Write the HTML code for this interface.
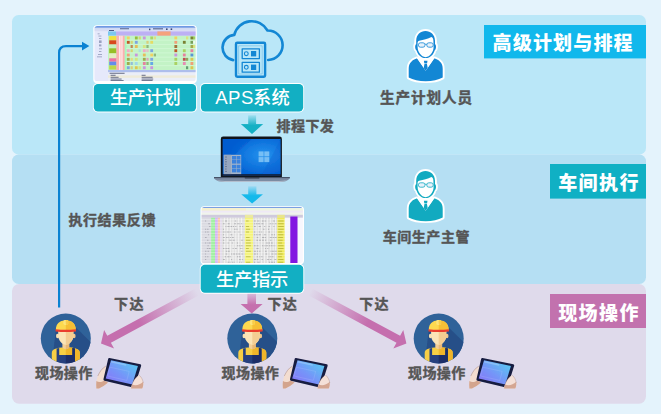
<!DOCTYPE html>
<html lang="zh-CN">
<head>
<meta charset="utf-8">
<title>APS 生产计划流程</title>
<style>
html,body{margin:0;padding:0;background:#e4f3fc;}
body{width:661px;height:414px;overflow:hidden;}
svg{display:block;}
text{font-family:"Liberation Sans","Noto Sans CJK SC",sans-serif;}
.t{font-weight:900;font-size:19px;fill:#fff;}
.b{font-weight:500;font-size:18.3px;fill:#fff;}
.g{font-weight:700;font-size:14px;fill:#555;stroke:#555;stroke-width:0.4px;stroke-linejoin:round;}
.pc{fill:var(--c);}
.ps{stroke:var(--c);}
</style>
</head>
<body>
<svg width="661" height="414" viewBox="0 0 661 414">
<defs>
  <linearGradient id="gTeal" x1="0" y1="0" x2="0" y2="1">
    <stop offset="0" stop-color="#14b0c4" stop-opacity="0.15"/>
    <stop offset="0.55" stop-color="#14b0c4" stop-opacity="1"/>
    <stop offset="1" stop-color="#14b0c4"/>
  </linearGradient>
  <linearGradient id="gBlue" x1="0" y1="0" x2="0" y2="1">
    <stop offset="0" stop-color="#14b9eb" stop-opacity="0.15"/>
    <stop offset="0.55" stop-color="#14b9eb" stop-opacity="1"/>
    <stop offset="1" stop-color="#14b9eb"/>
  </linearGradient>
  <linearGradient id="gPinkV" x1="0" y1="0" x2="0" y2="1">
    <stop offset="0" stop-color="#c56fae" stop-opacity="0.2"/>
    <stop offset="0.6" stop-color="#c56fae" stop-opacity="1"/>
  </linearGradient>
  <linearGradient id="gPinkL" gradientUnits="userSpaceOnUse" x1="197.2" y1="291.8" x2="101" y2="343.6">
    <stop offset="0" stop-color="#c56fae" stop-opacity="0"/>
    <stop offset="0.6" stop-color="#c56fae" stop-opacity="1"/>
  </linearGradient>
  <linearGradient id="gPinkR" gradientUnits="userSpaceOnUse" x1="310.2" y1="291.8" x2="406.4" y2="343.6">
    <stop offset="0" stop-color="#c56fae" stop-opacity="0"/>
    <stop offset="0.6" stop-color="#c56fae" stop-opacity="1"/>
  </linearGradient>
  <linearGradient id="gScreen" x1="0" y1="1" x2="1" y2="0">
    <stop offset="0" stop-color="#8a70f8"/>
    <stop offset="0.45" stop-color="#7595f8"/>
    <stop offset="1" stop-color="#52d2f0"/>
  </linearGradient>
  <radialGradient id="gWin" cx="0.7" cy="0.45" r="0.6">
    <stop offset="0" stop-color="#2492ee"/>
    <stop offset="1" stop-color="#0262d4"/>
  </radialGradient>
  <filter id="fSoft" x="-5%" y="-5%" width="110%" height="110%"><feGaussianBlur stdDeviation="0.35"/></filter>
  <clipPath id="cCirc"><circle cx="0" cy="0" r="25"/></clipPath>

  <!-- business person icon, origin at top-left of 38x54 box -->
  <g id="person">
    <g fill="#fff" stroke="#fff" stroke-width="3.8" stroke-linejoin="round">
      <path d="M18.5 2.2 C13.4 2.2 9.4 5.6 9.2 12 L9.2 15.4 C7.8 15.8 7.8 20.6 9.6 21.6 C10.4 25 13.6 29.2 18.6 29.2 C23.6 29.2 26.8 25 27.6 21.6 C29.4 20.6 29.4 15.8 28 15.4 L28 12 C27.8 5.6 23.6 2.2 18.5 2.2 Z"/>
      <path d="M10.2 29.5 C7.6 30.6 5.6 31.6 4.6 32.6 C2.4 34.6 1.7 37 1.7 40 L1.7 48.8 C6 51.2 12 52.4 18.7 52.4 C25.4 52.4 31.4 51.2 35.7 48.8 L35.7 40 C35.7 37 35 34.6 32.8 32.6 C31.8 31.6 29.8 30.6 27.2 29.5 Z"/>
    </g>
    <path class="pc" d="M10.2 29.5 C7.6 30.6 5.6 31.6 4.6 32.6 C2.4 34.6 1.7 37 1.7 40 L1.7 48.8 C6 51.2 12 52.4 18.7 52.4 C25.4 52.4 31.4 51.2 35.7 48.8 L35.7 40 C35.7 37 35 34.6 32.8 32.6 C31.8 31.6 29.8 30.6 27.2 29.5 L18.7 41.6 Z"/>
    <path d="M9.8 29.3 L13.6 27 L23.8 27 L27.6 29.3 L18.7 42 Z" fill="#fff"/>
    <path class="pc" d="M16.9 32 L20.5 32 L20.1 34.5 L17.3 34.5 Z M17.5 35 L19.9 35 L20.7 39.2 L18.7 42 L16.7 39.2 Z"/>
    <path class="pc" d="M18.5 2.2 C13.4 2.2 9.4 5.6 9.2 12 L9.2 15.4 C7.8 15.8 7.8 20.6 9.6 21.6 C10.4 25 13.6 29.2 18.6 29.2 C23.6 29.2 26.8 25 27.6 21.6 C29.4 20.6 29.4 15.8 28 15.4 L28 12 C27.8 5.6 23.6 2.2 18.5 2.2 Z"/>
    <path d="M10.6 13.6 C11 12.6 11.4 12.2 12.2 12 C14.4 11.6 16.6 11 18.5 10.4 C20.6 9.8 23 9 24.5 8.2 C25.6 8.6 26.4 10 26.4 12 L26.6 18 C26.6 20.6 25.8 23 24.4 24.8 C22.8 27 20.8 28.4 18.6 28.4 C16.4 28.4 14.4 27 12.8 24.8 C11.4 23 10.6 20.6 10.6 18 Z" fill="#fff"/>
    <g class="ps" stroke-width="0.8" fill="#e6f1fb">
      <rect x="11.4" y="14" width="6.6" height="4.4" rx="2"/>
      <rect x="19.8" y="14" width="6.4" height="4.4" rx="2"/>
      <path d="M18 15.6 Q18.9 15 19.8 15.6" fill="none"/>
    </g>
  </g>

  <!-- worker icon, origin at circle centre -->
  <g id="worker">
    <circle cx="0" cy="0" r="25" fill="#2f6299"/>
    <g clip-path="url(#cCirc)"><g transform="translate(0 0.5)" filter="url(#fSoft)">
      <path d="M-10 -9 L9.6 -12 L40 18 L20 45 L-14 25 Z" fill="#274f88"/>
      <!-- shirt -->
      <path d="M-14 26 L-14 14 C-14 10.6 -11 9.4 -4.4 8.6 L4.4 8.6 C11 9.4 14 10.6 14 14 L14 26 Z" fill="#f7cf45"/>
      <path d="M0 8.6 L4.4 8.6 C11 9.4 14 10.6 14 14 L14 26 L0 26 Z" fill="#f0b62c"/>
      <!-- overalls -->
      <path d="M-9.2 9.4 L-6.6 9 L-6.6 16 L6.6 16 L6.6 9 L9.2 9.4 L9.2 26 L-9.2 26 Z" fill="#25407f"/>
      <path d="M0 16 L6.6 16 L6.6 9 L9.2 9.4 L9.2 26 L0 26 Z" fill="#1c2f68"/>
      <!-- neck -->
      <path d="M-3.4 2 L3.4 2 L3.4 8.8 Q0 11.6 -3.4 8.8 Z" fill="#f4cf98"/>
      <path d="M0 2 L3.4 2 L3.4 8.8 Q1.8 10.2 0 10.4 Z" fill="#e9b877"/>
      <!-- ears -->
      <ellipse cx="-8.2" cy="-3" rx="1.6" ry="2.2" fill="#f9e0b0"/>
      <ellipse cx="8.2" cy="-3" rx="1.6" ry="2.2" fill="#f0c68c"/>
      <!-- face -->
      <path d="M-7.6 -8 L7.6 -8 L7.6 -3 C7.4 1.6 3.6 5.8 0 5.8 C-3.6 5.8 -7.4 1.6 -7.6 -3 Z" fill="#fbe4b6"/>
      <path d="M0 -8 L7.6 -8 L7.6 -3 C7.4 1.6 3.6 5.8 0 5.8 Z" fill="#f4cd92"/>
      <!-- helmet -->
      <path d="M-9.9 -8.6 C-10.2 -13 -8.6 -16.2 -5.4 -17.6 C-3 -18.7 3 -18.7 5.4 -17.6 C8.6 -16.2 10.2 -13 9.9 -8.6 Z" fill="#fcd950"/>
      <path d="M0 -18.4 C2 -18.4 4 -18.2 5.4 -17.6 C8.6 -16.2 10.2 -13 9.9 -8.6 L0 -8.6 Z" fill="#f5bf36"/>
      <rect x="-2.4" y="-19" width="4.8" height="5" rx="1.4" fill="#fde47a"/>
      <rect x="0" y="-19" width="2.4" height="5" rx="1.2" fill="#f8cc48"/>
      <path d="M-10.2 -9.8 Q0 -8.6 10.2 -9.8 L10.2 -7.6 Q0 -6.4 -10.2 -7.6 Z" fill="#ea3c2e"/>
    </g></g>
  </g>

  <!-- tablet in hands, origin at top-left of 47x32 box -->
  <g id="tablet">
    <g filter="url(#fSoft)">
    <path d="M9.6 8.8 C6 10.6 3.4 14.6 1.6 18.6 C0.2 22 -0.2 27 0.2 31.2 L2.8 31.2 C5.6 29.6 9.2 27.8 11.8 25.2 L7.6 22.6 L11.2 9.6 Z" fill="#f3ddd0"/>
    <path d="M0.2 31.2 L2.8 31.2 C5.6 29.6 9.2 27.8 11.8 25.2 L7.8 23 C5.4 24.8 2.4 25 0.2 23.6 C-0.1 26 0 28.8 0.2 31.2 Z" fill="#d3a48d"/>
    <path d="M9.6 8.8 C6 10.6 3.4 14.6 1.6 18.6" fill="none" stroke="#8c6458" stroke-width="0.5" stroke-opacity="0.7"/>
    <path d="M13.3 0.6 L44.1 6.8 Q45.3 7.2 44.9 8.5 L38.4 29.4 Q38 30.4 36.8 30.1 L8.2 23.3 Q7 22.9 7.3 21.7 L12 1.4 Q12.3 0.4 13.3 0.6 Z" fill="#171b40"/>
    <path d="M14.8 2.8 L41.7 8.5 L36.1 27.2 L9.5 21.1 Z" fill="url(#gScreen)"/>
    <path d="M13.6 9.8 L33 14 L30.6 23 L11.4 18.6 Z" fill="none" stroke="#c9d6ff" stroke-opacity="0.35" stroke-width="0.5"/>
    <path d="M15 4.4 L30 7.6" fill="none" stroke="#d8f0ff" stroke-opacity="0.3" stroke-width="1.6"/>
    <path d="M43 17.8 C45.2 19.6 46.8 22.8 47.1 25.6 C47.3 28 46.8 30 46 31.2 L34.8 31.2 C35 29.4 35.4 27.8 36.2 26 C37.2 23.6 39 20.6 41.3 18.8 C41.9 18.3 42.5 17.8 43 17.8 Z" fill="#f4e0d8"/>
    <path d="M34.8 31.2 C35 29.6 35.4 28.2 36 26.8 C38.4 28.6 43.6 27.8 46.9 24.6 C47.4 27 46.9 29.6 46 31.2 Z" fill="#d4a692"/>
    <path d="M43 17.8 C45.2 19.6 46.8 22.8 47.1 25.6 M41.3 18.8 C39 20.6 37.2 23.6 36.2 26" fill="none" stroke="#8c6458" stroke-width="0.5" stroke-opacity="0.55"/>
    </g>
  </g>
</defs>

<!-- background panels -->
<rect x="0" y="0" width="661" height="414" fill="#e4f3fc"/>
<rect x="12" y="15" width="634" height="139.5" rx="6.6" fill="#bae7f8"/>
<rect x="12" y="154.5" width="634" height="129.4" rx="6.6" fill="#b5dff3"/>
<rect x="12" y="283.9" width="634" height="119.9" rx="7.2" fill="#dfdaeb"/>

<!-- section labels -->
<rect x="484" y="25" width="162" height="33.4" fill="#11b8ec"/>
<text class="t" x="492.6" y="50" textLength="140" lengthAdjust="spacing">高级计划与排程</text>
<rect x="550" y="164" width="96" height="34.6" fill="#10b0c4"/>
<text class="t" x="558.2" y="190.4" textLength="80.2" lengthAdjust="spacing">车间执行</text>
<rect x="550" y="294" width="96" height="34" fill="#c272ae"/>
<text class="t" x="558.2" y="320.2" textLength="80.2" lengthAdjust="spacing">现场操作</text>

<!-- feedback line -->
<path d="M59.1 307.6 L59.1 53 Q59.1 46.1 66 46.1 L83 46.1" fill="none" stroke="#0a82d2" stroke-width="2.2"/>
<path d="M82 41.8 L89.4 46.1 L82 50.4 Z" fill="#0a82d2"/>
<text class="g" x="68.4" y="224.8" textLength="87" lengthAdjust="spacing">执行结果反馈</text>

<!-- pink arrows -->
<path d="M101.0 343.6 L104.1 329.9 L107.3 335.8 L195.4 288.4 L199.0 295.2 L110.9 342.7 L114.1 348.6 Z" fill="url(#gPinkL)"/>
<path d="M406.4 343.6 L393.3 348.6 L396.5 342.7 L308.4 295.2 L312.0 288.4 L400.1 335.8 L403.3 329.9 Z" fill="url(#gPinkR)"/>
<path d="M247.4 292 L256 292 L256 304 L262.6 304 L251.7 313.4 L240.6 304 L247.4 304 Z" fill="url(#gPinkV)"/>
<text class="g" x="114" y="309" textLength="29.4" lengthAdjust="spacing">下达</text>
<text class="g" x="267.4" y="309" textLength="29.4" lengthAdjust="spacing">下达</text>
<text class="g" x="359.2" y="309" textLength="29.4" lengthAdjust="spacing">下达</text>

<!-- production plan screenshot -->
<g id="plan">
  <rect x="93.3" y="25.2" width="103.5" height="58" rx="3.6" fill="#fff"/>
  <clipPath id="cPlan"><rect x="94.4" y="26.3" width="101.3" height="54.7" rx="2.6"/></clipPath>
  <g clip-path="url(#cPlan)" filter="url(#fSoft)">
    <rect x="94" y="26" width="102" height="56" fill="#e3e6f9"/>
    <rect x="94" y="26" width="102" height="1.7" fill="#3f78da"/>
    <rect x="94" y="27.7" width="102" height="2.1" fill="#cfdaf4"/>
    <rect x="94" y="29.8" width="102" height="1.6" fill="#d9dcf3"/>
    <g fill="#3b4a78"><rect x="109" y="30" width="5" height="0.9"/><rect x="120" y="28.4" width="9" height="0.8"/><rect x="149" y="28.6" width="1.4" height="1.6"/><rect x="153" y="28.4" width="10" height="0.9"/><rect x="166" y="28.4" width="1.6" height="1.6"/><rect x="170.6" y="28.4" width="1.6" height="1.6"/></g>
    <rect x="94" y="31.4" width="14" height="51" fill="#e6e9fb"/>
    <rect x="108" y="31.4" width="8" height="4.4" fill="#7cc8f0"/>
    <rect x="116" y="31.4" width="80" height="4.4" fill="#bdb0f3"/>
    <rect x="157.4" y="31.4" width="13.2" height="4.4" fill="#f5a27c"/>
    <rect x="108" y="35.8" width="88" height="34.2" fill="#c3f3c6"/>
    <rect x="116.2" y="35.8" width="8.6" height="34.2" fill="#fab0b0"/>
    <rect x="119.2" y="35.8" width="1.3" height="34.2" fill="#fff3f3"/>
    <rect x="121.4" y="35.8" width="1.1" height="34.2" fill="#fff3f3"/>
    <rect x="124.8" y="35.8" width="1.8" height="34.2" fill="#a9f8be"/>
    <rect x="109.2" y="36.1" width="7" height="4.2" fill="#f0e13c"/>
    <rect x="109.2" y="40.3" width="7" height="4.2" fill="#d7461e"/>
    <rect x="109.2" y="44.5" width="7" height="3.8" fill="#c8f0be"/>
    <rect x="109.2" y="48.3" width="7" height="5.1" fill="#96be28"/>
    <rect x="109.2" y="53.4" width="7" height="4.9" fill="#e3efc0"/>
    <rect x="109.2" y="58.3" width="7" height="3.4" fill="#f06ea0"/>
    <rect x="109.2" y="61.7" width="7" height="3.8" fill="#648cec"/>
    <rect x="109.2" y="65.5" width="7" height="4.1" fill="#bed746"/>
    <rect x="126.9" y="36.5" width="2.8" height="3" fill="#f0d264" fill-opacity="1.0"/>
    <rect x="126.9" y="40.8" width="2.8" height="3" fill="#be5a28" fill-opacity="1.0"/>
    <rect x="126.9" y="49.2" width="2.8" height="3" fill="#f0aac8" fill-opacity="1.0"/>
    <rect x="126.9" y="53.5" width="2.8" height="3" fill="#f0a078" fill-opacity="1.0"/>
    <rect x="126.9" y="57.8" width="2.8" height="3" fill="#a0aa50" fill-opacity="1.0"/>
    <rect x="126.9" y="62.0" width="2.8" height="3" fill="#a0aa50" fill-opacity="1.0"/>
    <rect x="126.9" y="66.2" width="2.8" height="3" fill="#7da5e1" fill-opacity="1.0"/>
    <rect x="130.6" y="40.8" width="2.2" height="3" fill="#dcc850" fill-opacity="0.7"/>
    <rect x="130.6" y="45.0" width="2.2" height="3" fill="#be5a28" fill-opacity="0.7"/>
    <rect x="130.6" y="49.2" width="2.2" height="3" fill="#dcc850" fill-opacity="0.7"/>
    <rect x="130.6" y="57.8" width="2.2" height="3" fill="#f0d264" fill-opacity="0.7"/>
    <rect x="130.6" y="62.0" width="2.2" height="3" fill="#7da5e1" fill-opacity="0.7"/>
    <rect x="130.6" y="66.2" width="2.2" height="3" fill="#e6be5a" fill-opacity="0.7"/>
    <rect x="134.9" y="36.5" width="2.8" height="3" fill="#96be3c" fill-opacity="1.0"/>
    <rect x="134.9" y="40.8" width="2.8" height="3" fill="#7da5e1" fill-opacity="1.0"/>
    <rect x="134.9" y="45.0" width="2.8" height="3" fill="#e6be5a" fill-opacity="1.0"/>
    <rect x="134.9" y="53.5" width="2.8" height="3" fill="#c896dc" fill-opacity="1.0"/>
    <rect x="134.9" y="57.8" width="2.8" height="3" fill="#d2e682" fill-opacity="1.0"/>
    <rect x="134.9" y="62.0" width="2.8" height="3" fill="#a0d8e8" fill-opacity="1.0"/>
    <rect x="134.9" y="66.2" width="2.8" height="3" fill="#dcc850" fill-opacity="1.0"/>
    <rect x="138.6" y="36.5" width="2.2" height="3" fill="#dcc850" fill-opacity="0.7"/>
    <rect x="138.6" y="49.2" width="2.2" height="3" fill="#a0d8e8" fill-opacity="0.7"/>
    <rect x="138.6" y="66.2" width="2.2" height="3" fill="#e6dc64" fill-opacity="0.7"/>
    <rect x="142.9" y="36.5" width="2.8" height="3" fill="#c896dc" fill-opacity="1.0"/>
    <rect x="142.9" y="45.0" width="2.8" height="3" fill="#d2e682" fill-opacity="1.0"/>
    <rect x="142.9" y="49.2" width="2.8" height="3" fill="#f0aac8" fill-opacity="1.0"/>
    <rect x="142.9" y="53.5" width="2.8" height="3" fill="#e6be5a" fill-opacity="1.0"/>
    <rect x="142.9" y="57.8" width="2.8" height="3" fill="#a0aa50" fill-opacity="1.0"/>
    <rect x="142.9" y="62.0" width="2.8" height="3" fill="#e6829e" fill-opacity="1.0"/>
    <rect x="142.9" y="66.2" width="2.8" height="3" fill="#c896dc" fill-opacity="1.0"/>
    <rect x="146.4" y="40.8" width="2.2" height="3" fill="#e6be5a" fill-opacity="0.7"/>
    <rect x="146.4" y="45.0" width="2.2" height="3" fill="#78a05a" fill-opacity="0.7"/>
    <rect x="146.4" y="49.2" width="2.2" height="3" fill="#f0aac8" fill-opacity="0.7"/>
    <rect x="146.4" y="57.8" width="2.2" height="3" fill="#e68cb4" fill-opacity="0.7"/>
    <rect x="146.4" y="62.0" width="2.2" height="3" fill="#78a05a" fill-opacity="0.7"/>
    <rect x="150.3" y="36.5" width="2.8" height="3" fill="#aad264" fill-opacity="1.0"/>
    <rect x="150.3" y="40.8" width="2.8" height="3" fill="#e6dc64" fill-opacity="1.0"/>
    <rect x="150.3" y="49.2" width="2.8" height="3" fill="#7da5e1" fill-opacity="1.0"/>
    <rect x="150.3" y="53.5" width="2.8" height="3" fill="#f0d264" fill-opacity="1.0"/>
    <rect x="150.3" y="57.8" width="2.8" height="3" fill="#7da5e1" fill-opacity="1.0"/>
    <rect x="150.3" y="62.0" width="2.8" height="3" fill="#64aae6" fill-opacity="1.0"/>
    <rect x="150.3" y="66.2" width="2.8" height="3" fill="#c896dc" fill-opacity="1.0"/>
    <rect x="153.8" y="36.5" width="2.2" height="3" fill="#f0d264" fill-opacity="0.7"/>
    <rect x="153.8" y="53.5" width="2.2" height="3" fill="#78a05a" fill-opacity="0.7"/>
    <rect x="174.4" y="36.5" width="2.8" height="3" fill="#f0d264" fill-opacity="1.0"/>
    <rect x="174.4" y="40.8" width="2.8" height="3" fill="#f0a078" fill-opacity="1.0"/>
    <rect x="174.4" y="45.0" width="2.8" height="3" fill="#a0733c" fill-opacity="1.0"/>
    <rect x="174.4" y="49.2" width="2.8" height="3" fill="#be5a28" fill-opacity="1.0"/>
    <rect x="174.4" y="53.5" width="2.8" height="3" fill="#c896dc" fill-opacity="1.0"/>
    <rect x="174.4" y="57.8" width="2.8" height="3" fill="#aad264" fill-opacity="1.0"/>
    <rect x="174.4" y="62.0" width="2.8" height="3" fill="#aad264" fill-opacity="1.0"/>
    <rect x="182.9" y="40.8" width="2.8" height="3" fill="#7a8232" fill-opacity="1.0"/>
    <rect x="182.9" y="49.2" width="2.8" height="3" fill="#aad264" fill-opacity="1.0"/>
    <rect x="182.9" y="53.5" width="2.8" height="3" fill="#e6829e" fill-opacity="1.0"/>
    <rect x="182.9" y="57.8" width="2.8" height="3" fill="#be5050" fill-opacity="1.0"/>
    <rect x="182.9" y="62.0" width="2.8" height="3" fill="#e68cb4" fill-opacity="1.0"/>
    <rect x="186.0" y="36.5" width="2.2" height="3" fill="#e6dc64" fill-opacity="0.7"/>
    <rect x="186.0" y="57.8" width="2.2" height="3" fill="#7a8232" fill-opacity="0.7"/>
    <rect x="186.0" y="66.2" width="2.2" height="3" fill="#3c7d50" fill-opacity="0.7"/>
    <rect x="190.5" y="36.5" width="2.8" height="3" fill="#7a8232" fill-opacity="1.0"/>
    <rect x="190.5" y="40.8" width="2.8" height="3" fill="#78a05a" fill-opacity="1.0"/>
    <rect x="190.5" y="45.0" width="2.8" height="3" fill="#a0aa50" fill-opacity="1.0"/>
    <rect x="190.5" y="49.2" width="2.8" height="3" fill="#e6829e" fill-opacity="1.0"/>
    <rect x="190.5" y="53.5" width="2.8" height="3" fill="#5a96d2" fill-opacity="1.0"/>
    <rect x="190.5" y="57.8" width="2.8" height="3" fill="#dcc850" fill-opacity="1.0"/>
    <rect x="190.5" y="62.0" width="2.8" height="3" fill="#f0a078" fill-opacity="1.0"/>
    <rect x="190.5" y="66.2" width="2.8" height="3" fill="#dcc850" fill-opacity="1.0"/>
    <rect x="193.0" y="36.5" width="2.2" height="3" fill="#96be3c" fill-opacity="0.7"/>
    <rect x="193.0" y="40.8" width="2.2" height="3" fill="#ffffff" fill-opacity="0.7"/>
    <rect x="193.0" y="45.0" width="2.2" height="3" fill="#e6dc64" fill-opacity="0.7"/>
    <g stroke="#e4ffe6" stroke-width="0.5" stroke-opacity="0.8">
      <path d="M126 40.15 H196"/>
      <path d="M126 44.40 H196"/>
      <path d="M126 48.65 H196"/>
      <path d="M126 52.90 H196"/>
      <path d="M126 57.15 H196"/>
      <path d="M126 61.40 H196"/>
      <path d="M126 65.65 H196"/>
    </g>
    <rect x="108" y="70" width="88" height="2.4" fill="#aebeec"/>
    <rect x="108" y="72.4" width="88" height="9.4" fill="#ebeef8"/>
    <rect x="108" y="75.4" width="88" height="2.4" fill="#efebd9"/>
    <g fill="#5a607a"><rect x="109.6" y="72.8" width="15" height="0.9"/><rect x="110.6" y="74.8" width="5" height="0.9"/><rect x="110.6" y="76.8" width="8" height="0.9"/><rect x="110.6" y="78.6" width="11" height="0.9"/><rect x="110.6" y="80.2" width="13" height="0.9"/><rect x="141.6" y="74.8" width="4" height="0.9"/><rect x="141.6" y="76.8" width="11" height="0.9"/><rect x="141.6" y="78.6" width="11.6" height="0.9"/><rect x="141.6" y="80.2" width="11" height="0.9"/></g>
    <g fill="#9aa2c0"><rect x="97.6" y="33.4" width="2" height="0.9"/><rect x="98.4" y="35.6" width="3" height="0.9"/><rect x="99" y="38" width="2.4" height="0.9"/><rect x="99" y="40.4" width="2.6" height="2.6"/><rect x="99" y="44.4" width="2.4" height="2"/><rect x="99" y="48.4" width="3" height="0.9"/><rect x="99" y="51" width="2.4" height="0.9"/><rect x="98" y="54" width="4" height="0.9"/><rect x="97" y="56.4" width="5" height="0.9"/></g>
  </g>
</g>

<!-- teal buttons -->
<rect x="92.9" y="83" width="104.2" height="29.5" rx="5" fill="#fff"/>
<rect x="93.8" y="83.9" width="102.3" height="27.5" rx="4.2" fill="#12afc3"/>
<text class="b" x="109.9" y="104.2" textLength="71" lengthAdjust="spacing">生产计划</text>
<rect x="200" y="83" width="104.1" height="29.5" rx="5" fill="#fff"/>
<rect x="200.9" y="83.9" width="102.3" height="27.5" rx="4.2" fill="#12afc3"/>
<text class="b" y="104.2"><tspan x="215.3" style="font-size:18.6px" textLength="38" lengthAdjust="spacing">APS</tspan><tspan x="253" textLength="36.8" lengthAdjust="spacing">系统</tspan></text>

<!-- cloud server icon -->
<g fill="none" stroke="#1387d4" stroke-linejoin="round" stroke-linecap="round">
  <path stroke-width="2.6" d="M233.2 60.1 A12.7 12.7 0 0 1 234.3 34.9 A18 18 0 0 1 267.5 30.5 A14.75 14.75 0 1 1 268.2 60"/>
  <rect x="236" y="42.8" width="29.1" height="34" rx="1.2" stroke-width="2.4"/>
  <rect x="239" y="45.8" width="23.2" height="28.2" stroke-width="0.8" stroke-opacity="0.35"/>
  <rect x="242.2" y="48.8" width="17.2" height="9.8" stroke-width="1.3"/>
  <rect x="242.2" y="62.4" width="17.2" height="9.8" stroke-width="1.3"/>
  <circle cx="246.3" cy="53.7" r="1.9" stroke-width="1.1"/>
  <circle cx="246.3" cy="67.3" r="1.9" stroke-width="1.1"/>
</g>
<rect x="251" y="51" width="5.2" height="5.4" fill="#1387d4"/>
<rect x="251" y="64.6" width="5.2" height="5.4" fill="#1387d4"/>

<!-- arrow 1 + label -->
<path d="M248.2 115.2 L256.1 115.2 L256.1 124.1 L263.2 124.1 L252 134 L240.8 124.1 L248.2 124.1 Z" fill="url(#gTeal)"/>
<text class="g" x="276.6" y="130.6" textLength="57.2" lengthAdjust="spacing">排程下发</text>

<!-- laptop -->
<g id="laptop">
  <path d="M220.8 177.4 L220.8 138.9 Q220.8 136.5 223.2 136.5 L279.5 136.5 Q281.9 136.5 281.9 138.9 L281.9 177.4 Z" fill="#10131a"/>
  <g filter="url(#fSoft)">
  <rect x="222.7" y="139" width="57.9" height="35.4" fill="url(#gWin)"/>
  <path d="M222.7 139 L252 139 L222.7 166 Z" fill="#0050c8" fill-opacity="0.35"/>
  <path d="M280.6 139 L280.6 174 L262 174 L272 156 Z" fill="#0a58cc" fill-opacity="0.25"/>
  <g fill="#8ccaf8" fill-opacity="0.8">
    <rect x="258.6" y="151.4" width="5" height="5"/><rect x="264.3" y="151.4" width="5" height="5"/>
    <rect x="258.6" y="157.1" width="5" height="5"/><rect x="264.3" y="157.1" width="5" height="5"/>
  </g>
  <rect x="223.8" y="154.8" width="17.4" height="19.6" fill="#a4b4ca"/>
  <rect x="223.8" y="154.8" width="7.4" height="19.6" fill="#97a7bf"/>
  <path d="M225 157 h2 M225 159.4 h1.6 M225 161.8 h2 M225 164.2 h1.6 M225 166.6 h2 M225 169 h1.6 M225 171.4 h2" stroke="#5d6f8e" stroke-width="0.8" fill="none"/>
  <g fill="#3a82dc">
    <rect x="232" y="156" width="4" height="3.6"/><rect x="236.5" y="156" width="4" height="3.6"/>
    <rect x="232" y="160" width="4" height="3.6"/><rect x="236.5" y="160" width="4" height="3.6"/>
    <rect x="232" y="164.8" width="4" height="3.6"/><rect x="236.5" y="164.8" width="4" height="3.6"/>
    <rect x="232" y="168.8" width="4" height="3.6"/><rect x="236.5" y="168.8" width="4" height="3.6"/>
  </g>
  <rect x="222.7" y="174.2" width="57.9" height="1.9" fill="#16294e"/>
  </g>
  <path d="M214 177.2 L289.8 177.2 L289.8 178.4 Q286.6 181.9 279 181.9 L225 181.9 Q217.4 181.9 214 178.4 Z" fill="#7c8ba2"/>
  <path d="M216.4 180.2 Q220 181.9 225 181.9 L279 181.9 Q284 181.9 287.4 180.2 Q283 180.9 279 180.9 L225 180.9 Q221 180.9 216.4 180.2 Z" fill="#b4bfce"/>
  <rect x="214" y="177" width="75.8" height="1.1" fill="#465267"/>
  <rect x="244.6" y="177" width="15" height="1.5" rx="0.7" fill="#303a4c"/>
</g>

<!-- arrow 2 -->
<path d="M248.2 186.2 L256.4 186.2 L256.4 194.2 L263 194.2 L252.1 203.6 L241.2 194.2 L248.2 194.2 Z" fill="url(#gBlue)"/>

<!-- spreadsheet screenshot -->
<g id="sheet">
  <rect x="200.5" y="206.2" width="103.5" height="57.8" rx="3.6" fill="#fff"/>
  <clipPath id="cSheet"><rect x="201.5" y="207.2" width="101.4" height="55.8" rx="2.6"/></clipPath>
  <g clip-path="url(#cSheet)" filter="url(#fSoft)">
    <rect x="201" y="207" width="103" height="57" fill="#f1f1f5"/>
    <rect x="201" y="207" width="103" height="1.1" fill="#4f7fd8"/>
    <rect x="201" y="208.1" width="103" height="2.6" fill="#eef5e0"/>
    <rect x="201" y="208.1" width="45" height="2.6" fill="#f5f0cf"/>
    <rect x="201" y="210.7" width="103" height="2" fill="#efe9f6"/>
    <rect x="201" y="212.7" width="103" height="2.1" fill="#f1f4ec"/>
    <rect x="201" y="214.8" width="103" height="3" fill="#cfcadd"/>
    <rect x="244.9" y="214.8" width="8.2" height="3" fill="#ece9a0"/>
    <rect x="277.2" y="214.8" width="7.6" height="3" fill="#e9e58a"/>
    <rect x="201.0" y="217.8" width="10.1" height="46.0" fill="#d9d9e1"/>
    <rect x="211.1" y="217.8" width="3.9" height="46.0" fill="#a0f0a2"/>
    <rect x="215.0" y="217.8" width="2.9" height="46.0" fill="#d3b6f3"/>
    <rect x="217.9" y="217.8" width="2.2" height="46.0" fill="#f9c9ab"/>
    <rect x="220.1" y="217.8" width="1.9" height="46.0" fill="#e3dbec"/>
    <rect x="222.0" y="217.8" width="22.9" height="46.0" fill="#dedede"/>
    <rect x="244.9" y="217.8" width="8.2" height="46.0" fill="#f5f478"/>
    <rect x="253.1" y="217.8" width="24.1" height="46.0" fill="#dcdcdc"/>
    <rect x="277.2" y="217.8" width="7.6" height="46.0" fill="#f0eb58"/>
    <rect x="284.8" y="217.8" width="5.5" height="46.0" fill="#f6f6fa"/>
    <rect x="297.5" y="217.8" width="6.5" height="46.0" fill="#f7f7fd"/>
    <rect x="290.3" y="216.5" width="7.2" height="48" fill="#8214e1"/>
    <path d="M224.6 217.8 V264 M227.4 217.8 V264 M230.4 217.8 V264 M233.0 217.8 V264 M235.8 217.8 V264 M238.6 217.8 V264 M241.6 217.8 V264 M256.0 217.8 V264 M258.8 217.8 V264 M261.6 217.8 V264 M264.6 217.8 V264 M267.4 217.8 V264 M270.4 217.8 V264 M273.2 217.8 V264 M275.6 217.8 V264" stroke="#fff" stroke-opacity="0.85" stroke-width="0.7" fill="none"/>
    <path d="M201 219.60 H290 M201 222.35 H290 M201 225.10 H290 M201 227.85 H290 M201 230.60 H290 M201 233.35 H290 M201 236.10 H290 M201 238.85 H290 M201 241.60 H290 M201 244.35 H290 M201 247.10 H290 M201 249.85 H290 M201 252.60 H290 M201 255.35 H290 M201 258.10 H290 M201 260.85 H290 M201 263.60 H290" stroke="#fff" stroke-opacity="0.55" stroke-width="0.6" fill="none"/>
    <path d="M205.0 221.00 h1.1 M225.1 221.00 h2.0 M234.9 221.00 h1.2 M254.0 221.00 h1.9 M257.3 221.00 h2.0 M261.9 221.00 h1.7 M264.5 221.00 h1.3 M273.1 221.00 h1.7 M208.2 223.75 h1.8 M223.0 223.75 h1.6 M227.7 223.75 h1.9 M234.2 223.75 h1.8 M237.3 223.75 h2.2 M240.9 223.75 h1.2 M254.0 223.75 h0.8 M255.7 223.75 h1.7 M257.9 223.75 h2.0 M261.3 223.75 h2.1 M269.7 223.75 h1.5 M272.4 223.75 h1.1 M274.9 223.75 h1.5 M209.1 226.50 h1.5 M225.5 226.50 h0.8 M227.4 226.50 h2.1 M230.5 226.50 h1.6 M232.9 226.50 h1.2 M235.2 226.50 h1.2 M239.6 226.50 h1.2 M242.1 226.50 h1.1 M254.0 226.50 h1.8 M258.7 226.50 h2.0 M264.1 226.50 h1.1 M268.6 226.50 h1.1 M273.4 226.50 h1.0 M205.0 229.25 h1.2 M207.1 229.25 h1.4 M223.0 229.25 h1.0 M234.1 229.25 h1.5 M236.4 229.25 h1.1 M263.2 229.25 h1.3 M268.0 229.25 h1.1 M205.0 232.00 h1.2 M207.2 232.00 h1.4 M223.0 232.00 h0.8 M224.4 232.00 h1.0 M226.8 232.00 h2.0 M229.7 232.00 h1.2 M234.3 232.00 h1.1 M238.4 232.00 h0.9 M254.0 232.00 h1.3 M258.8 232.00 h1.1 M261.0 232.00 h0.9 M268.5 232.00 h1.4 M208.0 234.75 h0.9 M223.0 234.75 h1.1 M230.4 234.75 h1.9 M240.5 234.75 h1.1 M254.0 234.75 h1.3 M256.1 234.75 h1.4 M258.5 234.75 h2.2 M264.0 234.75 h1.7 M271.3 234.75 h1.5 M273.9 234.75 h1.1 M205.0 237.50 h1.6 M223.0 237.50 h1.8 M226.1 237.50 h1.6 M228.4 237.50 h0.8 M230.0 237.50 h1.0 M231.9 237.50 h1.9 M256.7 237.50 h1.5 M262.1 237.50 h2.0 M264.7 237.50 h1.2 M269.8 237.50 h2.0 M272.6 237.50 h1.8 M275.0 237.50 h1.6 M207.1 240.25 h1.3 M223.0 240.25 h1.3 M229.4 240.25 h2.1 M232.7 240.25 h1.9 M241.1 240.25 h1.6 M256.4 240.25 h1.6 M259.1 240.25 h1.7 M262.1 240.25 h1.7 M265.1 240.25 h1.0 M270.0 240.25 h1.4 M205.0 243.00 h1.2 M207.5 243.00 h0.9 M209.0 243.00 h1.6 M223.0 243.00 h1.4 M227.5 243.00 h1.2 M231.8 243.00 h1.1 M237.0 243.00 h1.0 M266.3 243.00 h1.5 M268.5 243.00 h1.5 M271.0 243.00 h1.7 M207.5 245.75 h1.3 M237.1 245.75 h1.0 M238.7 245.75 h1.1 M240.7 245.75 h1.8 M254.0 245.75 h1.7 M256.6 245.75 h1.9 M262.0 245.75 h1.3 M264.4 245.75 h1.1 M266.2 245.75 h1.9 M269.0 245.75 h1.1 M270.7 245.75 h1.4 M272.6 245.75 h1.0 M274.5 245.75 h0.9 M206.9 248.50 h1.4 M208.8 248.50 h1.8 M223.0 248.50 h1.5 M225.5 248.50 h1.3 M227.4 248.50 h1.8 M232.6 248.50 h1.1 M235.0 248.50 h1.7 M240.0 248.50 h0.8 M241.4 248.50 h1.0 M256.4 248.50 h2.2 M265.0 248.50 h0.9 M267.2 248.50 h1.0 M205.0 251.25 h1.4 M207.6 251.25 h1.5 M225.9 251.25 h1.3 M227.9 251.25 h1.8 M241.1 251.25 h1.3 M254.0 251.25 h2.1 M257.1 251.25 h1.0 M259.2 251.25 h1.1 M265.0 251.25 h1.6 M270.4 251.25 h1.1 M272.0 251.25 h2.0 M274.5 251.25 h2.1 M205.0 254.00 h0.9 M225.7 254.00 h1.6 M231.1 254.00 h1.1 M233.1 254.00 h1.8 M235.8 254.00 h1.5 M238.2 254.00 h1.8 M241.2 254.00 h1.6 M254.0 254.00 h2.2 M257.1 254.00 h0.9 M265.6 254.00 h1.6 M271.5 254.00 h1.9 M274.7 254.00 h1.9 M205.0 256.75 h1.1 M207.2 256.75 h1.2 M224.6 256.75 h1.4 M227.2 256.75 h1.8 M229.6 256.75 h1.2 M237.0 256.75 h1.3 M239.1 256.75 h1.4 M256.7 256.75 h1.2 M259.1 256.75 h0.8 M260.9 256.75 h1.6 M268.6 256.75 h0.8 M269.9 256.75 h1.4 M271.9 256.75 h1.6 M205.0 259.50 h1.2 M223.0 259.50 h1.9 M231.1 259.50 h1.0 M239.1 259.50 h1.6 M241.8 259.50 h1.0 M254.0 259.50 h2.2 M257.1 259.50 h1.3 M261.6 259.50 h1.2 M267.1 259.50 h1.7 M269.8 259.50 h1.6 M274.5 259.50 h1.7 M227.6 262.25 h1.2 M229.6 262.25 h1.0 M232.0 262.25 h0.9 M233.6 262.25 h0.9 M238.9 262.25 h0.8 M241.1 262.25 h0.9 M254.0 262.25 h1.2 M257.5 262.25 h2.1 M269.0 262.25 h1.3 M271.2 262.25 h2.2 M274.0 262.25 h1.0" stroke="#6e6e78" stroke-opacity="0.5" stroke-width="0.8" fill="none"/>
    <path d="M278.2 221.00 h5.4 M246 221.00 h2.6 M278.2 223.75 h5.5 M278.2 226.50 h5.6 M246 226.50 h3.1 M278.2 229.25 h5.5 M246 229.25 h4.1 M278.2 232.00 h4.2 M246 232.00 h3.0 M278.2 234.75 h5.1 M278.2 237.50 h4.7 M246 237.50 h3.6 M278.2 240.25 h4.4 M246 240.25 h4.5 M278.2 243.00 h3.9 M246 243.00 h4.8 M278.2 245.75 h5.3 M246 245.75 h4.9 M278.2 248.50 h5.3 M246 248.50 h2.8 M278.2 251.25 h3.9 M246 251.25 h4.9 M278.2 254.00 h4.4 M278.2 256.75 h3.7 M246 256.75 h4.6 M278.2 259.50 h5.2 M278.2 262.25 h4.9 M246 262.25 h4.3" stroke="#8c8a28" stroke-opacity="0.55" stroke-width="0.9" fill="none"/>
  </g>
</g>
<rect x="199.8" y="263.8" width="104.4" height="29.9" rx="5" fill="#fff"/>
<rect x="200.7" y="264.7" width="102.6" height="28.1" rx="4.2" fill="#12afc3"/>
<text class="b" x="216.1" y="285.6" textLength="72.2" lengthAdjust="spacing">生产指示</text>

<!-- people -->
<g transform="translate(407 28.8)" style="--c:#1387d4"><use href="#person"/></g>
<text class="g" x="380" y="102.6" style="font-size:14.6px" textLength="92" lengthAdjust="spacing">生产计划人员</text>
<g transform="translate(407 168.8)" style="--c:#12aac0"><use href="#person"/></g>
<text class="g" x="382.8" y="241.6" textLength="86.6" lengthAdjust="spacing">车间生产主管</text>

<!-- workers -->
<use href="#worker" x="65.8" y="338.5"/>
<text class="g" x="35" y="378.4" textLength="57.2" lengthAdjust="spacing">现场操作</text>
<use href="#tablet" x="96.2" y="357.4"/>
<use href="#worker" x="252.3" y="338.5"/>
<text class="g" x="221.6" y="378.4" textLength="57.2" lengthAdjust="spacing">现场操作</text>
<use href="#tablet" x="282.7" y="357.4"/>
<use href="#worker" x="438.7" y="338.5"/>
<text class="g" x="408" y="378.4" textLength="57.2" lengthAdjust="spacing">现场操作</text>
<use href="#tablet" x="469.2" y="357.4"/>
</svg>
</body>
</html>
